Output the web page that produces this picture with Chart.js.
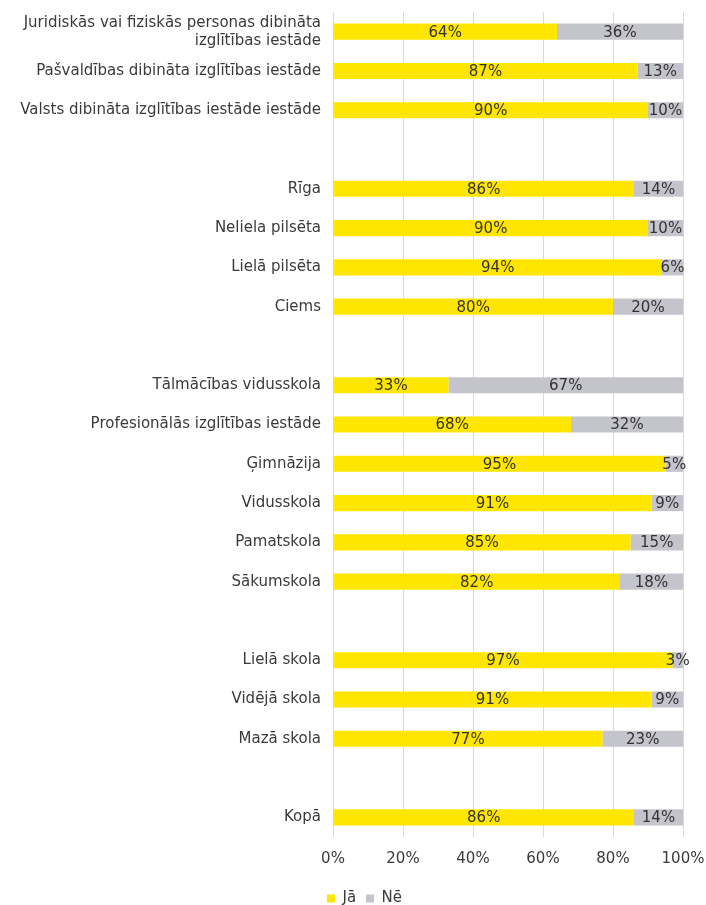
<!DOCTYPE html>
<html><head><meta charset="utf-8">
<script src="https://cdn.jsdelivr.net/npm/chart.js@4"></script>
<style>html,body{margin:0;padding:0;background:#fff}#w{width:706px;height:905px}</style>
</head><body><div id="w"><canvas id="c"></canvas></div>
<script>
const categories = [
  ["Juridiskās vai fiziskās personas dibināta","izglītības iestāde"],
  "Pašvaldības dibināta izglītības iestāde",
  "Valsts dibināta izglītības iestāde iestāde",
  "",
  "Rīga",
  "Neliela pilsēta",
  "Lielā pilsēta",
  "Ciems",
  "",
  "Tālmācības vidusskola",
  "Profesionālās izglītības iestāde",
  "Ģimnāzija",
  "Vidusskola",
  "Pamatskola",
  "Sākumskola",
  "",
  "Lielā skola",
  "Vidējā skola",
  "Mazā skola",
  "",
  "Kopā"
];
const seriesNames = ["Jā","Nē"];
const yesValues = [64,87,90,null,86,90,94,80,null,33,68,95,91,85,82,null,97,91,77,null,86];
const noValues  = [36,13,10,null,14,10,6,20,null,67,32,5,9,15,18,null,3,9,23,null,14];
const xTicks = [0,20,40,60,80,100];

const FONT = "'DejaVu Sans', sans-serif";
Chart.defaults.font.family = FONT;
Chart.defaults.color = '#3a3a3a';

const labelPlugin = {
  id: 'barLabels',
  afterLayout(chart) {
    const lg = chart.legend;
    if (lg) { lg.left += 23; lg.right += 23; }
  },
  afterDatasetsDraw(chart) {
    const ctx = chart.ctx;
    ctx.save();
    ctx.font = '15px ' + FONT;
    ctx.fillStyle = '#333333';
    ctx.textAlign = 'center';
    ctx.textBaseline = 'middle';
    chart.data.datasets.forEach((ds, di) => {
      const meta = chart.getDatasetMeta(di);
      meta.data.forEach((bar, i) => {
        const v = ds.data[i];
        if (v === null || v === undefined) return;
        const p = bar.getProps(['x','base','y'], true);
        const cx = (p.x + p.base) / 2;
        ctx.fillText(v + '%', cx, p.y + 1);
      });
    });
    ctx.restore();
  }
};

new Chart(document.getElementById('c'), {
  type: 'bar',
  data: {
    labels: categories,
    datasets: [
      { label: seriesNames[0], data: yesValues, backgroundColor: '#FFE600', barPercentage: 0.82, categoryPercentage: 0.5 },
      { label: seriesNames[1], data: noValues, backgroundColor: '#C4C4CD', barPercentage: 0.82, categoryPercentage: 0.5 }
    ]
  },
  options: {
    indexAxis: 'y',
    responsive: true,
    maintainAspectRatio: false,
    animation: false,
    layout: { padding: { top: 12, right: 23, left: 0, bottom: -11 } },
    scales: {
      x: {
        stacked: true, min: 0, max: 100,
        afterBuildTicks(s) { s.ticks = xTicks.map(v => ({ value: v })); },
        ticks: { callback: v => v + '%', font: { size: 15 }, color: '#3a3a3a', padding: 13 },
        grid: { color: '#d9d9d9', drawTicks: false, lineWidth: 1 },
        border: { display: false },
        afterFit(s) { s.paddingLeft = 0; s.paddingRight = 0; }
      },
      y: {
        stacked: true,
        ticks: { font: { size: 15, lineHeight: 1.2 }, color: '#3a3a3a', padding: 12, autoSkip: false },
        grid: { display: false, drawTicks: false },
        border: { display: false },
        afterFit(s) { s.width = 333; s.paddingTop = 0; s.paddingBottom = 0; }
      }
    },
    plugins: {
      legend: {
        position: 'bottom',
        labels: { boxWidth: 8, boxHeight: 8, font: { size: 15 }, color: '#3a3a3a', padding: 10 }
      },
      tooltip: { enabled: false }
    }
  },
  plugins: [labelPlugin]
});
</script></body></html>
